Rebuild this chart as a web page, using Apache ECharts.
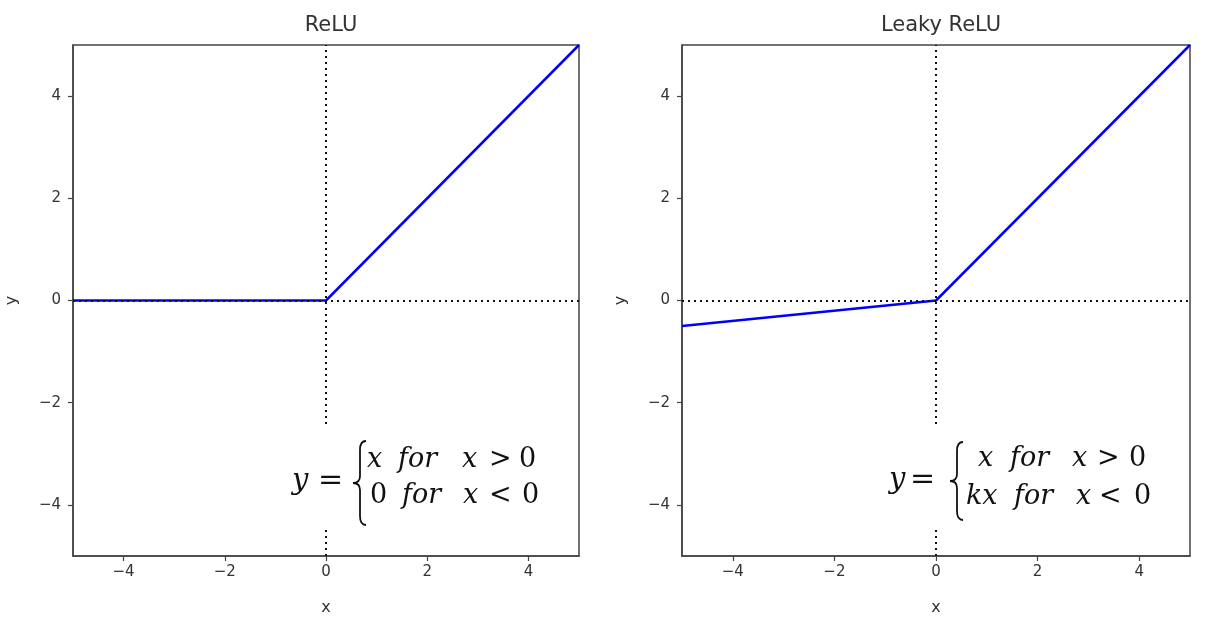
<!DOCTYPE html>
<html>
<head>
<meta charset="utf-8">
<script src="https://cdn.jsdelivr.net/npm/echarts@6/dist/echarts.min.js"></script>
<style>
  html, body { margin: 0; padding: 0; background: #fff; }
  #main { width: 1212px; height: 630px; }
</style>
</head>
<body>
<div id="main"></div>
<script>
// data
const xs = [-5, 0, 5];
const reluY = [0, 0, 5];
const leakyY = [-0.5, 0, 5];
const tickVals = [-4, -2, 0, 2, 4];
const titles = ['ReLU', 'Leaky ReLU'];

const chart = echarts.init(document.getElementById('main'));

const fmt = v => String(v).replace('-', '\u2212');
const axisCol = '#444';
const txtCol = '#333';
const font = 'DejaVu Sans';

function xAx(i) {
  return {
    type: 'value', gridIndex: i, min: -5, max: 5,
    name: 'x', nameLocation: 'middle', nameGap: 44,
    nameTextStyle: { fontSize: 16, color: txtCol, fontFamily: font },
    axisLine: { show: true, onZero: false, lineStyle: { color: axisCol, width: 1.5 } },
    axisTick: { show: true, length: 5, customValues: tickVals, lineStyle: { color: axisCol, width: 1.2 } },
    axisLabel: { customValues: tickVals, formatter: fmt, fontSize: 15, color: txtCol, margin: 9, fontFamily: font },
    splitLine: { show: false }
  };
}
function yAx(i) {
  return {
    type: 'value', gridIndex: i, min: -5, max: 5,
    name: 'y', nameLocation: 'middle', nameGap: 53,
    nameTextStyle: { fontSize: 16, color: txtCol, fontFamily: font },
    axisLine: { show: true, onZero: false, lineStyle: { color: axisCol, width: 1.5 } },
    axisTick: { show: true, length: 5, customValues: tickVals, lineStyle: { color: axisCol, width: 1.2 } },
    axisLabel: { customValues: tickVals, formatter: fmt, fontSize: 15, color: txtCol, margin: 12, fontFamily: font },
    splitLine: { show: false }
  };
}

function guides(i) {
  return {
    type: 'line', xAxisIndex: i, yAxisIndex: i, data: [], silent: true,
    markLine: {
      symbol: 'none', silent: true, label: { show: false },
      lineStyle: { color: '#111', type: [2, 4], width: 2 },
      data: [{ xAxis: 0 }, { yAxis: 0 }]
    }
  };
}
function curve(i, ys) {
  return {
    type: 'line', xAxisIndex: i, yAxisIndex: i, showSymbol: false,
    lineStyle: { color: '#0000ff', width: 2.5 },
    data: xs.map((x, k) => [x, ys[k]])
  };
}

// brace built from quadratic curves and straight lines
function braceParts(bx, by, h) {
  const m = h / 2;
  const st = { stroke: '#111', lineWidth: 1.8, fill: 'none' };
  const q = (x1, y1, cx, cy, x2, y2) => ({ type: 'bezierCurve', z: 101, shape: { x1: bx + x1, y1: by + y1, cpx1: bx + cx, cpy1: by + cy, x2: bx + x2, y2: by + y2 }, style: st });
  const l = (x1, y1, x2, y2) => ({ type: 'line', z: 101, shape: { x1: bx + x1, y1: by + y1, x2: bx + x2, y2: by + y2 }, style: st });
  return [
    q(13, 0, 7, 0, 7, 9), l(7, 9, 7, m - 7), q(7, m - 7, 7, m, 0, m),
    q(0, m, 7, m, 7, m + 7), l(7, m + 7, 7, h - 9), q(7, h - 9, 7, h, 13, h)
  ];
}

// piecewise formula drawn as separate tokens: [text, x, y, italic, size]
function formula(box, brace, tokens) {
  const els = [{ type: 'rect', z: 100, shape: box, style: { fill: '#fff' } }];
  braceParts(brace.x, brace.y, brace.h).forEach(e => els.push(e));
  tokens.forEach(t => {
    els.push({
      type: 'text', z: 101, x: t[1], y: t[2],
      style: {
        text: t[0], fill: '#111', verticalAlign: 'middle',
        font: (t[3] ? 'italic ' : '') + (t[4] || 27) + 'px "DejaVu Serif"'
      }
    });
  });
  return els;
}

const option = {
  animation: false,
  backgroundColor: '#fff',
  title: [
    { text: titles[0], left: 326, top: 10, textAlign: 'center', textStyle: { fontSize: 21, fontWeight: 'normal', color: txtCol, fontFamily: font } },
    { text: titles[1], left: 936, top: 10, textAlign: 'center', textStyle: { fontSize: 21, fontWeight: 'normal', color: txtCol, fontFamily: font } }
  ],
  grid: [
    { left: 73, right: 633, top: 45, bottom: 74, outerBoundsMode: 'none', containLabel: false, show: true, borderColor: axisCol, borderWidth: 1.5 },
    { left: 682, right: 22, top: 45, bottom: 74, outerBoundsMode: 'none', containLabel: false, show: true, borderColor: axisCol, borderWidth: 1.5 }
  ],
  xAxis: [xAx(0), xAx(1)],
  yAxis: [yAx(0), yAx(1)],
  series: [guides(0), curve(0, reluY), guides(1), curve(1, leakyY)],
  graphic: [].concat(
    formula({ x: 286, y: 428, width: 258, height: 100 }, { x: 353, y: 441, h: 84 }, [
      ['y', 292, 481, true, 29], ['=', 318, 481, false, 30],
      ['x', 367, 460, true], ['for', 398, 460, true], ['x', 462, 460, true], ['>', 489, 460, false], ['0', 519, 460, false],
      ['0', 370, 496, false], ['for', 402, 496, true], ['x', 463, 496, true], ['<', 489, 496, false], ['0', 522, 496, false]
    ]),
    formula({ x: 870, y: 428, width: 292, height: 102 }, { x: 950, y: 442, h: 78 }, [
      ['y', 889, 480, true, 29], ['=', 910, 480, false, 30],
      ['x', 978, 459, true], ['for', 1010, 459, true], ['x', 1072, 459, true], ['>', 1097, 459, false], ['0', 1129, 459, false],
      ['kx', 966, 497, true], ['for', 1014, 497, true], ['x', 1076, 497, true], ['<', 1099, 497, false], ['0', 1134, 497, false]
    ])
  )
};
chart.setOption(option);
</script>
</body>
</html>
